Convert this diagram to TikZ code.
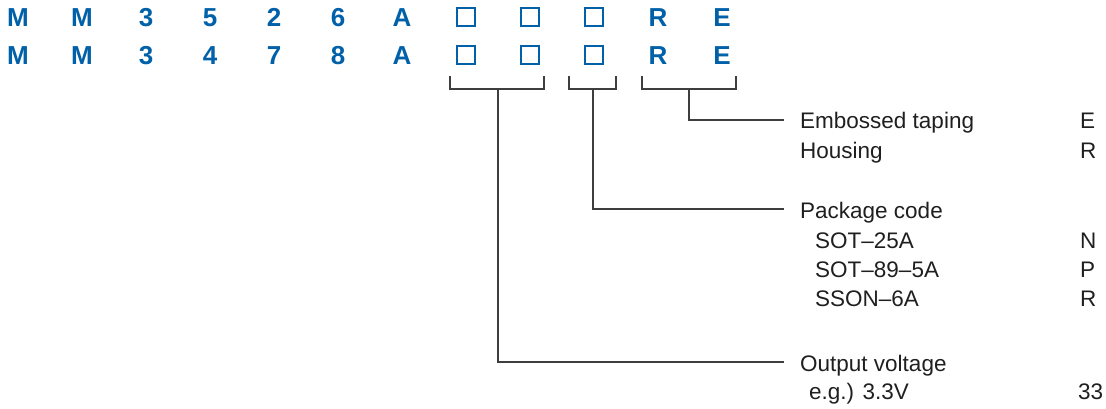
\documentclass[tikz,border=0pt]{standalone}
\usepackage{fontspec}
\setmainfont{Liberation Sans}
\usepackage{xcolor}
\usepackage{tikz}
\usetikzlibrary{positioning}

\definecolor{codeblue}{RGB}{0,96,168}
\definecolor{linegray}{RGB}{62,62,62}

\begin{document}
\begin{tikzpicture}[
      x=1pt, y=-1pt,
      code/.style={anchor=base, inner sep=0pt, minimum width=20pt, text=codeblue, font=\fontsize{26}{26}\selectfont\bfseries},
      slot/.style={anchor=south, draw=codeblue, line width=2pt, minimum width=18pt, minimum height=18pt, inner sep=0pt},
      lbl/.style={anchor=base west, inner sep=0pt, text=black!88, font=\fontsize{22.5}{24}\selectfont},
      link/.style={draw=linegray, line width=1.8pt}
    ]
      \useasboundingbox (0,0) rectangle (1106,409);
      \foreach \ch [count=\i] in {M,M,3,5,2,6,A}
        \node[code] (t\i) at ({18+64*(\i-1)},27) {\ch};
      \foreach \ch [count=\i] in {M,M,3,4,7,8,A}
        \node[code] (b\i) at ({18+64*(\i-1)},65) {\ch};
      \foreach \i in {8,9,10} {
        \node[slot] (t\i) at ({18+64*(\i-1)},27) {};
        \node[slot] (b\i) at ({18+64*(\i-1)},65) {};
      }
      \node[code] (t11) at (658,27) {R};
      \node[code] (t12) at (722,27) {E};
      \node[code] (b11) at (658,65) {R};
      \node[code] (b12) at (722,65) {E};

      \node[lbl] (taping) at (800,129) {Embossed taping};
      \node[lbl] (housing) at (800,159) {Housing};
      \node[lbl] (pkg) at (800,218) {Package code};
      \node[lbl] (sot25) at (815,248) {SOT–25A};
      \node[lbl] (sot89) at (815,277) {SOT–89–5A};
      \node[lbl] (sson) at (815,306) {SSON–6A};
      \node[lbl] (vout) at (800,371) {Output voltage};
      \node[lbl] (vex) at (809,399) {e.g.) 3.3V};
      \node[lbl] (cE) at (1080,129) {E};
      \node[lbl] (cR) at (1080,159) {R};
      \node[lbl] (cN) at (1080,248) {N};
      \node[lbl] (cP) at (1080,277) {P};
      \node[lbl] (cR2) at (1080,306) {R};
      \node[lbl] (c33) at (1078,399) {33};

      \coordinate (v1) at (498,89);
      \coordinate (v2) at (593,89);
      \coordinate (v3) at (689,89);
      \draw[link] ([shift={(-6,11)}]b8.south west) |- (v1) -| ([shift={(4,11)}]b9.south east);
      \draw[link] ([shift={(-15,11)}]b10.south west) |- (v2) -| ([shift={(12,11)}]b10.south east);
      \draw[link] ([shift={(-6,11)}]b11.south west) |- (v3) -| ([shift={(4,11)}]b12.south east);
      \draw[link] (v3) |- ([xshift=-16pt, yshift=9pt]taping.base west);
      \draw[link] (v2) |- ([xshift=-16pt, yshift=9pt]pkg.base west);
      \draw[link] (v1) |- ([xshift=-16pt, yshift=9pt]vout.base west);
    \end{tikzpicture}
\end{document}
